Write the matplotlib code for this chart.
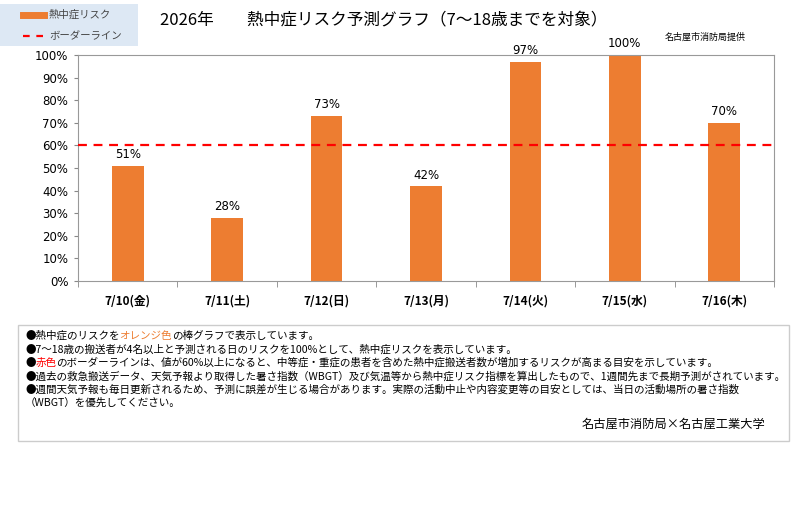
import matplotlib
matplotlib.use("Agg")
import matplotlib.pyplot as plt
from matplotlib.patches import Rectangle
from matplotlib.lines import Line2D
from matplotlib.transforms import offset_copy

plt.rcParams['font.family'] = ['Noto Sans CJK JP', 'DejaVu Sans']

dates = ['7/10(金)', '7/11(土)', '7/12(日)', '7/13(月)', '7/14(火)', '7/15(水)', '7/16(木)']
risk = [51, 28, 73, 42, 97, 100, 70]
border = 60
yticks = list(range(0, 101, 10))

title = '2026年　　熱中症リスク予測グラフ（7～18歳までを対象）'
source = '名古屋市消防局提供'
credit = '名古屋市消防局×名古屋工業大学'
notes = [
    [('●熱中症のリスクを', 'black'), ('オレンジ色', '#ED7D31'), ('の棒グラフで表示しています。', 'black')],
    [('●7～18歳の搬送者が4名以上と予測される日のリスクを100%として、熱中症リスクを表示しています。', 'black')],
    [('●', 'black'), ('赤色', '#FF0000'), ('のボーダーラインは、値が60%以上になると、中等症・重症の患者を含めた熱中症搬送者数が増加するリスクが高まる目安を示しています。', 'black')],
    [('●過去の救急搬送データ、天気予報より取得した暑さ指数（WBGT）及び気温等から熱中症リスク指標を算出したもので、1週間先まで長期予測がされています。', 'black')],
    [('●週間天気予報も毎日更新されるため、予測に誤差が生じる場合があります。実際の活動中止や内容変更等の目安としては、当日の活動場所の暑さ指数', 'black')],
    [('（WBGT）を優先してください。', 'black')],
]

orange = '#ED7D31'
W, H = 800, 522
fig = plt.figure(figsize=(8, 5.22), dpi=100)

def fx(px): return px / W
def fy(py): return 1 - py / H

ax = fig.add_axes([fx(78), fy(281), fx(774) - fx(78), fy(55) - fy(281)])
x = list(range(len(dates)))
ax.bar(x, risk, width=0.32, color=orange, zorder=2)
ax.axhline(border, color='#FF0000', linestyle=(0, (4, 3)), linewidth=1.6, zorder=3)
ax.set_xlim(-0.5, len(dates) - 0.5)
ax.set_ylim(0, 100)
ax.set_yticks(yticks)
ax.set_yticklabels([f'{v}%' for v in yticks], fontsize=8.5, family=['DejaVu Sans'])
ax.set_xticks(x)
ax.set_xticklabels(dates, fontsize=8.5, fontweight='bold', family=['Noto Sans CJK JP'])
ax.tick_params(axis='x', length=0, pad=10)
ax.set_xticks([i - 0.5 for i in range(len(dates) + 1)], minor=True)
ax.tick_params(axis='x', which='minor', length=4, color='#888888', direction='out')
ax.tick_params(axis='y', length=3, color='#888888', pad=4)
for s in ax.spines.values():
    s.set_color('#999999')
    s.set_linewidth(0.8)
for xi, v in zip(x, risk):
    ax.text(xi, v + 2, f'{v}%', ha='center', va='bottom', fontsize=8.5, family=['DejaVu Sans'])

# legend box
fig.patches.append(Rectangle((fx(0), fy(46)), fx(138), fy(4) - fy(46), transform=fig.transFigure,
                             facecolor='#DDE8F4', edgecolor='none', zorder=0))
fig.lines.append(Line2D([fx(23), fx(44)], [fy(15), fy(15)], transform=fig.transFigure,
                        color=orange, linewidth=5))
fig.text(fx(49), fy(15), '熱中症リスク', fontsize=7.5, va='center', color='#444444')
fig.lines.append(Line2D([fx(23), fx(44)], [fy(36), fy(36)], transform=fig.transFigure,
                        color='#FF0000', linewidth=1.6, linestyle=(0, (3, 3))))
fig.text(fx(49), fy(36), 'ボーダーライン', fontsize=7.5, va='center', color='#444444')

fig.text(fx(160), fy(20), title, fontsize=12, va='center')
fig.text(fx(665), fy(37), source, fontsize=6.5, va='center')

# notes box
fig.patches.append(Rectangle((fx(18), fy(441)), fx(789) - fx(18), fy(325) - fy(441),
                             transform=fig.transFigure, facecolor='white',
                             edgecolor='#CCCCCC', linewidth=1.0))
renderer = fig.canvas.get_renderer()
y0 = 336
for i, line in enumerate(notes):
    ypos = fy(y0 + i * 13.4)
    xpos = fx(25)
    offset = 0.0
    for txt, col in line:
        t = fig.text(xpos, ypos, txt, fontsize=7.6, color=col, va='center',
                     transform=offset_copy(fig.transFigure, fig=fig, x=offset, y=0, units='dots'))
        bb = t.get_window_extent(renderer=renderer)
        offset += bb.width
fig.text(fx(765), fy(424), credit, fontsize=8.8, va='center', ha='right')

fig.savefig('out.png', dpi=100, facecolor='white')
